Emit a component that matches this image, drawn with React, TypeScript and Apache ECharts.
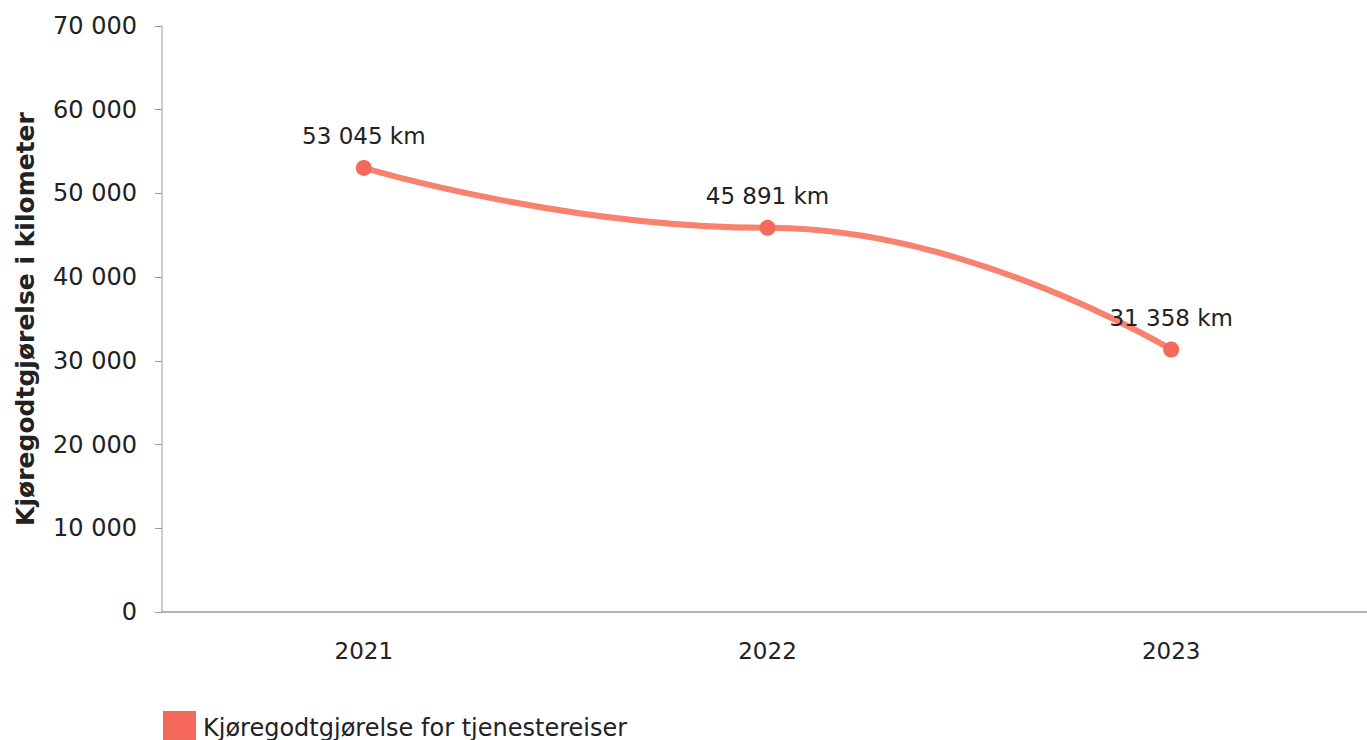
import React, { useEffect, useRef } from "react";
import * as echarts from "echarts";

const categories = ["2021", "2022", "2023"];
const values = [53045, 45891, 31358];
const seriesName = "Kjøregodtgjørelse for tjenestereiser";
const yAxisName = "Kjøregodtgjørelse i kilometer";

const fmt = (n: number) => String(n).replace(/\B(?=(\d{3})+(?!\d))/g, " ");
const FONT = "DejaVu Sans";

export default function App() {
  const ref = useRef<HTMLDivElement>(null);
  useEffect(() => {
    if (!ref.current) return;
    const chart = echarts.init(ref.current, null, { renderer: "svg" });
    chart.setOption({
      animation: false,
      backgroundColor: "#ffffff",
      textStyle: { fontFamily: FONT },
      grid: { left: 162, top: 26, right: 0, bottom: 128, containLabel: false },
      legend: {
        left: 158,
        top: 706,
        icon: "rect",
        itemWidth: 33,
        itemHeight: 33,
        textStyle: { fontFamily: FONT, fontSize: 24, color: "#222", padding: [0, 0, 0, 2] },
        data: [seriesName],
      },
      xAxis: {
        type: "category",
        data: categories,
        boundaryGap: true,
        axisLine: { lineStyle: { color: "#9a9a9a", width: 1.5 } },
        axisTick: { alignWithLabel: true, length: 5, lineStyle: { color: "#bbb" } },
        axisLabel: { fontFamily: FONT, fontSize: 23, color: "#222", margin: 27 },
      },
      yAxis: {
        type: "value",
        min: 0,
        max: 70000,
        interval: 10000,
        name: yAxisName,
        nameLocation: "middle",
        nameRotate: 90,
        nameGap: 124,
        nameTextStyle: { fontFamily: FONT, fontSize: 25, fontWeight: "bold", color: "#222" },
        axisLine: { show: true, lineStyle: { color: "#bdbdbd", width: 1.5 } },
        axisTick: { show: true, length: 7, lineStyle: { color: "#999" } },
        splitLine: { show: false },
        axisLabel: {
          fontFamily: FONT,
          fontSize: 24,
          color: "#222",
          margin: 25,
          formatter: (v: number) => fmt(v),
        },
      },
      series: [
        {
          name: seriesName,
          type: "line",
          data: values,
          smooth: 0.5,
          smoothMonotone: "x",
          symbol: "circle",
          symbolSize: 16,
          lineStyle: { color: "#F7836F", width: 6 },
          itemStyle: { color: "#F5695C" },
          label: {
            show: true,
            position: "top",
            distance: 12,
            fontFamily: FONT,
            fontSize: 23,
            color: "#222",
            formatter: (p: any) => fmt(p.value) + " km",
          },
        },
      ],
    });
    return () => chart.dispose();
  }, []);
  return (
    <div
      style={{ position: "fixed", left: 0, top: 0, width: 1367, height: 740, overflow: "hidden", background: "#fff" }}
    >
      <div ref={ref} style={{ position: "absolute", left: 0, top: 0, width: 1373, height: 740 }} />
    </div>
  );
}
